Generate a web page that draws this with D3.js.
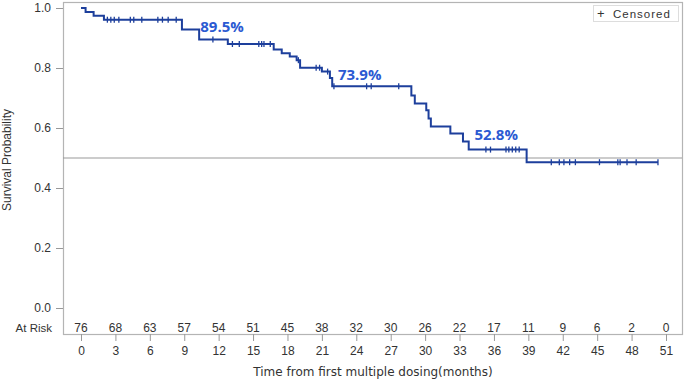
<!DOCTYPE html>
<html>
<head>
<meta charset="utf-8">
<script src="https://cdn.jsdelivr.net/npm/d3@7"></script>
<style>
	body { margin: 0; background: #fff; }
	svg text { font-family: "Liberation Sans", Arial, sans-serif; fill: #333; }
	.pct { font-family: "Open Sans", sans-serif; font-weight: 700; fill: #2b5ad2; }
</style>
</head>
<body>
<div id="chart"></div>
<script>
// Kaplan-Meier steps
var step_times = [0, 0.4, 1.1, 2.0, 8.8, 10.3, 12.8, 16.8, 17.5, 18.2, 18.8, 19.1, 21.0, 21.7, 21.9,
	28.8, 29.1, 30.1, 30.3, 30.5, 32.2, 33.3, 33.8, 38.85];
var survival = [1.0, 0.987, 0.974, 0.961, 0.928, 0.895, 0.88, 0.862, 0.849, 0.838, 0.826, 0.801, 0.788, 0.767, 0.739,
	0.708, 0.682, 0.659, 0.632, 0.605, 0.582, 0.555, 0.528, 0.486];
var censor_times = [2.3, 2.6, 2.9, 3.3, 4.3, 4.6, 5.3, 6.7, 7.1, 7.6, 8.3, 11.5, 13.2, 13.8, 15.5, 15.75, 15.95, 16.5,
	18.95, 20.5, 20.8, 21.5, 22.05, 24.9, 25.3, 27.7, 35.3, 35.7, 37.05, 37.3, 37.6, 37.9, 38.2,
	41.0, 41.7, 42.1, 42.6, 43.1, 45.2, 46.8, 47.0, 47.6, 48.4, 50.3];
var risk_times = [0, 3, 6, 9, 12, 15, 18, 21, 24, 27, 30, 33, 36, 39, 42, 45, 48, 51];
var at_risk = [76, 68, 63, 57, 54, 51, 45, 38, 32, 30, 26, 22, 17, 11, 9, 6, 2, 0];
var y_ticks = [0, 0.2, 0.4, 0.6, 0.8, 1.0];
var labels = [
	{ t: 10.4, text: '89.5%', base: 32 },
	{ t: 22.4, text: '73.9%', base: 80 },
	{ t: 34.3, text: '52.8%', base: 140 }
];

var width = 685, height = 381;
var box = { left: 63, top: 2, right: 682, bottom: 334 };

var x = d3.scaleLinear().domain([0, 51]).range([81, 666]);
var y = d3.scaleLinear().domain([0, 1]).range([308, 8]);

var svg = d3.select('#chart').append('svg')
	.attr('width', width)
	.attr('height', height);

// frame
svg.append('rect')
	.attr('x', box.left + 0.5).attr('y', box.top + 0.5)
	.attr('width', box.right - box.left).attr('height', box.bottom - box.top)
	.attr('fill', 'none').attr('stroke', '#b4b4b4').attr('stroke-width', 1.2);

// y axis
var yAxis = svg.append('g')
	.attr('transform', 'translate(' + box.left + ',0)')
	.call(d3.axisLeft(y).tickValues(y_ticks).tickFormat(d3.format('.1f')).tickSize(7).tickPadding(5));
yAxis.select('.domain').remove();
yAxis.selectAll('line').attr('stroke', '#999');
yAxis.selectAll('text').style('font-size', '12px').attr('fill', '#333');

// x axis
var xAxis = svg.append('g')
	.attr('transform', 'translate(0,' + box.bottom + ')')
	.call(d3.axisBottom(x).tickValues(risk_times).tickSize(7).tickPadding(5));
xAxis.select('.domain').remove();
xAxis.selectAll('line').attr('stroke', '#999');
xAxis.selectAll('text').style('font-size', '12px').attr('fill', '#333');

// reference line at 0.5
svg.append('line')
	.attr('x1', box.left).attr('x2', box.right)
	.attr('y1', y(0.5)).attr('y2', y(0.5))
	.attr('stroke', '#999').attr('stroke-width', 1);

// survival curve
var end_time = d3.max(censor_times);
var pts = step_times.map(function(t, i) { return [t, survival[i]]; });
pts.push([end_time, survival[survival.length - 1]]);

svg.append('path')
	.datum(pts)
	.attr('fill', 'none')
	.attr('stroke', '#1d3f9c')
	.attr('stroke-width', 2)
	.attr('d', d3.line()
		.x(function(d) { return x(d[0]); })
		.y(function(d) { return y(d[1]); })
		.curve(d3.curveStepAfter));

function survAt(t) {
	var i = d3.bisectRight(step_times, t) - 1;
	return survival[Math.max(i, 0)];
}

svg.append('g').selectAll('line')
	.data(censor_times)
	.join('line')
	.attr('x1', function(d) { return x(d); })
	.attr('x2', function(d) { return x(d); })
	.attr('y1', function(d) { return y(survAt(d)) - 3; })
	.attr('y2', function(d) { return y(survAt(d)) + 3; })
	.attr('stroke', '#1d3f9c')
	.attr('stroke-width', 1.3);

// percentage labels
svg.append('g').selectAll('text')
	.data(labels)
	.join('text')
	.attr('class', 'pct')
	.attr('x', function(d) { return x(d.t); })
	.attr('y', function(d) { return d.base; })
	.style('font-size', '15px')
	.text(function(d) { return d.text; });

// at risk row
svg.append('text')
	.attr('x', 52).attr('y', 332)
	.attr('text-anchor', 'end')
	.style('font-size', '11.5px')
	.text('At Risk');

svg.append('g').selectAll('text')
	.data(at_risk)
	.join('text')
	.attr('x', function(d, i) { return x(risk_times[i]); })
	.attr('y', 332)
	.attr('text-anchor', 'middle')
	.style('font-size', '12px')
	.attr('fill', '#444')
	.text(function(d) { return d; });

// axis titles
svg.append('text')
	.attr('transform', 'translate(11,160) rotate(-90)')
	.attr('text-anchor', 'middle')
	.style('font-size', '12px')
	.text('Survival Probability');

svg.append('text')
	.attr('x', 373).attr('y', 376)
	.attr('text-anchor', 'middle')
	.style('font-family', '"DejaVu Sans", sans-serif')
	.style('font-size', '12px')
	.text('Time from first multiple dosing(months)');

// legend
var legend = svg.append('g');
legend.append('rect')
	.attr('x', 593.5).attr('y', 5.5)
	.attr('width', 85).attr('height', 16)
	.attr('fill', '#fff').attr('stroke', '#ddd');
legend.append('text')
	.attr('x', 597).attr('y', 18)
	.style('font-size', '13px')
	.attr('fill', '#1d3f9c')
	.text('+');
legend.append('text')
	.attr('x', 613).attr('y', 17.5)
	.style('font-size', '11.5px')
	.style('letter-spacing', '1px')
	.text('Censored');
</script>
</body>
</html>
